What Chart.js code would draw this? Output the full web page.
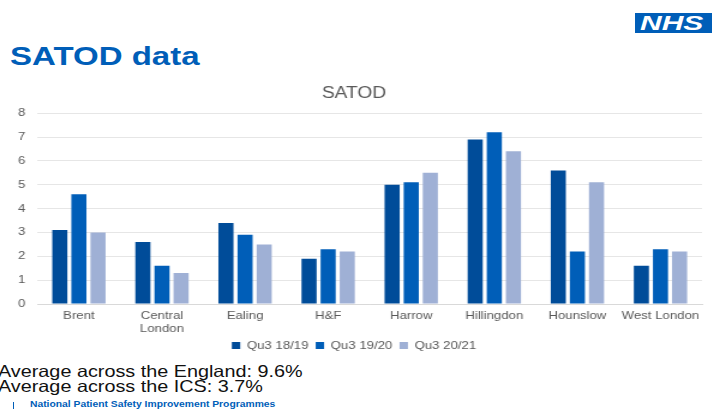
<!DOCTYPE html>
<html>
<head>
<meta charset="utf-8">
<script src="https://cdn.jsdelivr.net/npm/chart.js@4"></script>
<style>
    body { margin: 0; width: 712px; height: 409px; overflow: hidden; background: #fff; font-family: "Liberation Sans", Arial, sans-serif; position: relative; }
    .wide { position: absolute; transform-origin: 0 0; white-space: nowrap; }
    #logo { position: absolute; left: 635px; top: 13px; width: 80px; height: 20px; background: #005EB8; }
    #logo span { position: absolute; left: 5px; top: 0; color: #fff; font: italic bold 20px/20px "Liberation Sans", Arial, sans-serif; transform: scaleX(1.5); transform-origin: 0 0; }
    #title { left: 10px; top: 43px; color: #005EB8; font: bold 26px/26px "Liberation Sans", Arial, sans-serif; transform: scaleX(1.27); }
    #chartBox { position: absolute; left: 0; top: 78px; width: 593px; height: 283px; transform: scaleX(1.2); transform-origin: 0 0; }
    .avg { left: -2px; color: #111; font-size: 16.5px; line-height: 16.5px; transform: scaleX(1.2); }
    #footer { left: 30px; top: 400px; color: #005EB8; font: bold 8.6px/9px "Liberation Sans", Arial, sans-serif; transform: scaleX(1.2); }
    #bar { position: absolute; left: 13px; top: 402px; width: 1px; height: 7px; background: #005EB8; }
</style>
</head>
<body>
<div id="logo"><span>NHS</span></div>
<div id="title" class="wide">SATOD data</div>
<div id="chartBox"><canvas id="satod-chart" width="593" height="283"></canvas></div>
<div class="avg wide" style="top:363px">Average across the England: 9.6%</div>
<div class="avg wide" style="top:378px">Average across the ICS: 3.7%</div>
<div id="bar"></div>
<div id="footer" class="wide">National Patient Safety Improvement Programmes</div>
<script>
    const areas = ['Brent', ['Central', 'London'], 'Ealing', 'H&F', 'Harrow', 'Hillingdon', 'Hounslow', 'West London'];
    const qu3_1819 = [3.1, 2.6, 3.4, 1.9, 5.0, 6.9, 5.6, 1.6];
    const qu3_1920 = [4.6, 1.6, 2.9, 2.3, 5.1, 7.2, 2.2, 2.3];
    const qu3_2021 = [3.0, 1.3, 2.5, 2.2, 5.5, 6.4, 5.1, 2.2];
    const yTicks = [0, 1, 2, 3, 4, 5, 6, 7, 8];

    const font = { family: '"Liberation Sans", Arial', size: 11 };

    const ctx = document.getElementById('satod-chart').getContext('2d');
    const chart = new Chart(ctx, {
        type: 'bar',
        data: {
            labels: areas,
            datasets: [
                { label: 'Qu3 18/19', data: qu3_1819, backgroundColor: '#004C99' },
                { label: 'Qu3 19/20', data: qu3_1920, backgroundColor: '#005EB8' },
                { label: 'Qu3 20/21', data: qu3_2021, backgroundColor: '#9FB0D5' }
            ]
        },
        options: {
            responsive: false,
            animation: false,
            layout: { padding: { left: 5, right: 8, top: 4, bottom: 0 } },
            datasets: { bar: { barPercentage: 0.79, categoryPercentage: 0.69 } },
            plugins: {
                title: {
                    display: true,
                    text: 'SATOD',
                    color: '#595959',
                    font: { family: '"Liberation Sans", Arial', size: 16, weight: 'normal' },
                    padding: { top: 2, bottom: 10 }
                },
                legend: {
                    position: 'bottom',
                    labels: {
                        color: '#595959',
                        font: font,
                        boxWidth: 7,
                        boxHeight: 7,
                        padding: 6
                    }
                },
                tooltip: { enabled: false }
            },
            scales: {
                x: {
                    grid: { display: false, drawTicks: false },
                    border: { color: '#d9d9d9' },
                    afterFit: scale => { scale.height = 30; },
                    ticks: {
                        color: '#595959',
                        font: font,
                        maxRotation: 0,
                        autoSkip: false,
                        padding: 5
                    }
                },
                y: {
                    min: yTicks[0],
                    max: yTicks[yTicks.length - 1],
                    afterBuildTicks: axis => { axis.ticks = yTicks.map(v => ({ value: v })); },
                    grid: { color: '#e6e6e6', drawTicks: false },
                    border: { display: false },
                    ticks: {
                        color: '#595959',
                        font: font,
                        padding: 10
                    }
                }
            }
        }
    });
</script>
</body>
</html>
